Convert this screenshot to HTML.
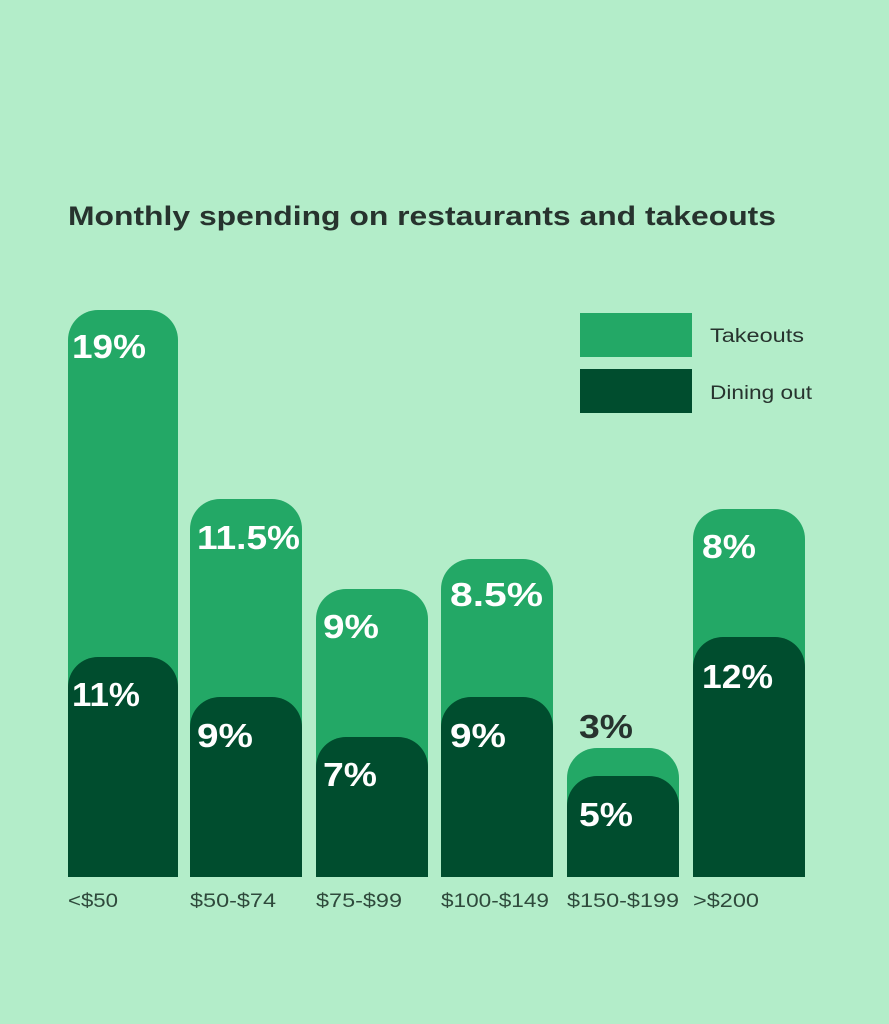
<!DOCTYPE html>
<html><head><meta charset="utf-8"><style>
html,body{margin:0;padding:0;background:#b3edc9;}
svg{display:block}
text{font-family:"Liberation Sans",sans-serif;}
.v{font-size:33px;font-weight:bold;fill:#fff}
.c{font-size:19px;fill:#2f4a3c}
</style></head><body>
<svg width="889" height="1024" viewBox="0 0 889 1024">
<rect width="889" height="1024" fill="#b3edc9"/>
<text x="68" y="225" font-size="27" font-weight="bold" fill="#27332e" textLength="708" lengthAdjust="spacingAndGlyphs">Monthly spending on restaurants and takeouts</text>
<g fill="#23a866">
<path d="M68 877V340a30 30 0 0 1 30-30h50a30 30 0 0 1 30 30V877z"/>
<path d="M190 877V529a30 30 0 0 1 30-30h52a30 30 0 0 1 30 30V877z"/>
<path d="M316 877V619a30 30 0 0 1 30-30h52a30 30 0 0 1 30 30V877z"/>
<path d="M441 877V589a30 30 0 0 1 30-30h52a30 30 0 0 1 30 30V877z"/>
<path d="M567 877V778a30 30 0 0 1 30-30h52a30 30 0 0 1 30 30V877z"/>
<path d="M693 877V539a30 30 0 0 1 30-30h52a30 30 0 0 1 30 30V877z"/>
</g>
<g fill="#004d2e">
<path d="M68 877V687a30 30 0 0 1 30-30h50a30 30 0 0 1 30 30V877z"/>
<path d="M190 877V727a30 30 0 0 1 30-30h52a30 30 0 0 1 30 30V877z"/>
<path d="M316 877V767a30 30 0 0 1 30-30h52a30 30 0 0 1 30 30V877z"/>
<path d="M441 877V727a30 30 0 0 1 30-30h52a30 30 0 0 1 30 30V877z"/>
<path d="M567 877V806a30 30 0 0 1 30-30h52a30 30 0 0 1 30 30V877z"/>
<path d="M693 877V667a30 30 0 0 1 30-30h52a30 30 0 0 1 30 30V877z"/>
</g>
<text class="v" x="72" y="358" textLength="74" lengthAdjust="spacingAndGlyphs">19%</text>
<text class="v" x="72" y="706" textLength="68" lengthAdjust="spacingAndGlyphs">11%</text>
<text class="v" x="197" y="549" textLength="103" lengthAdjust="spacingAndGlyphs">11.5%</text>
<text class="v" x="197" y="747" textLength="56" lengthAdjust="spacingAndGlyphs">9%</text>
<text class="v" x="323" y="638" textLength="56" lengthAdjust="spacingAndGlyphs">9%</text>
<text class="v" x="323" y="786" textLength="54" lengthAdjust="spacingAndGlyphs">7%</text>
<text class="v" x="450" y="606" textLength="93" lengthAdjust="spacingAndGlyphs">8.5%</text>
<text class="v" x="450" y="747" textLength="56" lengthAdjust="spacingAndGlyphs">9%</text>
<text class="v" x="579" y="738" style="fill:#27332e" textLength="54" lengthAdjust="spacingAndGlyphs">3%</text>
<text class="v" x="579" y="826" textLength="54" lengthAdjust="spacingAndGlyphs">5%</text>
<text class="v" x="702" y="558" textLength="54" lengthAdjust="spacingAndGlyphs">8%</text>
<text class="v" x="702" y="688" textLength="71" lengthAdjust="spacingAndGlyphs">12%</text>
<text class="c" x="68" y="907" textLength="50" lengthAdjust="spacingAndGlyphs">&lt;$50</text>
<text class="c" x="190" y="907" textLength="86" lengthAdjust="spacingAndGlyphs">$50-$74</text>
<text class="c" x="316" y="907" textLength="86" lengthAdjust="spacingAndGlyphs">$75-$99</text>
<text class="c" x="441" y="907" textLength="108" lengthAdjust="spacingAndGlyphs">$100-$149</text>
<text class="c" x="567" y="907" textLength="112" lengthAdjust="spacingAndGlyphs">$150-$199</text>
<text class="c" x="693" y="907" textLength="66" lengthAdjust="spacingAndGlyphs">&gt;$200</text>
<rect x="580" y="313" width="112" height="44" fill="#23a866"/>
<rect x="580" y="369" width="112" height="44" fill="#004d2e"/>
<text x="710" y="342" font-size="19" fill="#27332e" textLength="94" lengthAdjust="spacingAndGlyphs">Takeouts</text>
<text x="710" y="399" font-size="19" fill="#27332e" textLength="102" lengthAdjust="spacingAndGlyphs">Dining out</text>
</svg>
</body></html>
